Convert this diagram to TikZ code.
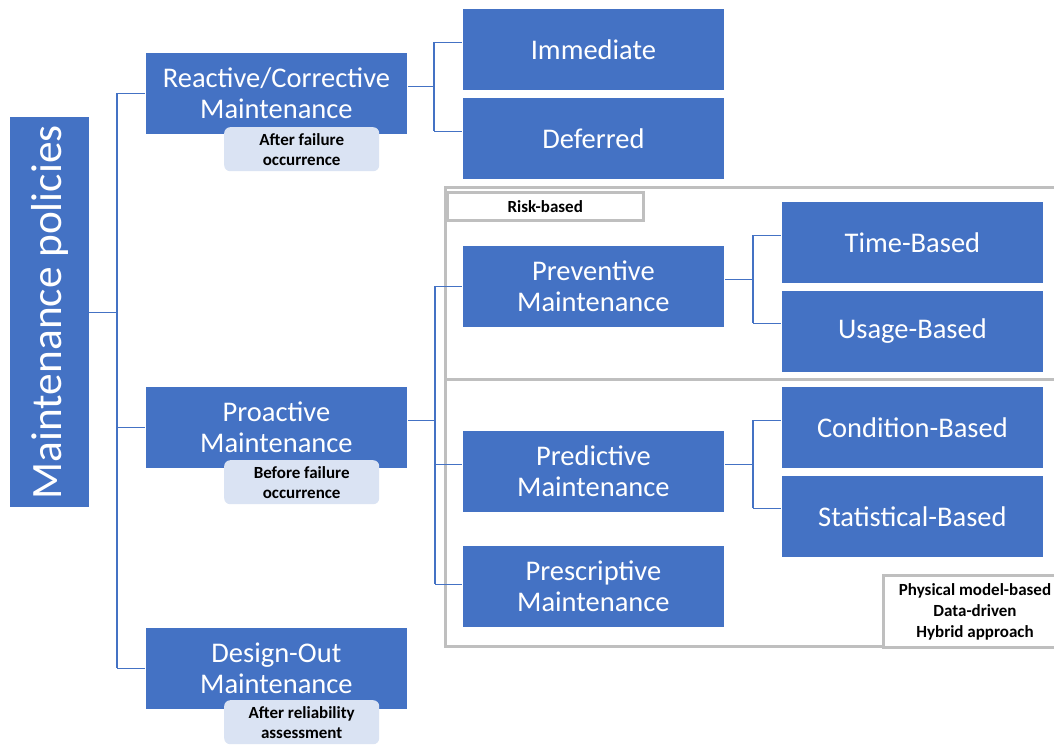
\documentclass[tikz,border=0pt]{standalone}
\usepackage{fontspec}
\setmainfont{Carlito}
\usepackage{graphicx}
\usetikzlibrary{calc}
\definecolor{blu}{HTML}{4472C4}
\definecolor{lbl}{HTML}{DAE3F3}
\definecolor{gr}{HTML}{BFBFBF}
\begin{document}
\begin{tikzpicture}[x=1pt,y=-1pt,
 bbox/.style={fill=blu, draw=white, line width=0.8pt, text=white, minimum width=262pt, minimum height=82pt, anchor=north west, align=center, inner sep=0pt, font=\fontsize{28.5}{31}\selectfont},
 lab/.style={fill=lbl, rounded corners=6pt, minimum width=155pt, minimum height=44pt, anchor=north west, align=center, inner sep=0pt, font=\bfseries\fontsize{17}{20}\selectfont},
 con/.style={draw=blu, line width=1.3pt},
 frm/.style={draw=gr, line width=3pt}]
\useasboundingbox (0,0) rectangle (1054,745);
\fill[white] (0,0) rectangle (1054,745);
% frames
\draw[frm] (445,187.3) rectangle (1075,379);
\draw[frm] (445,379) rectangle (1075,646.3);
\node[draw=gr, line width=3pt, fill=white, minimum width=196.5pt, minimum height=28.5pt, anchor=north west, inner sep=0pt, font=\bfseries\fontsize{17}{20}\selectfont] (risk) at (445.5,190.5) {Risk-based};
\node[draw=gr, line width=3pt, fill=white, minimum width=183pt, minimum height=72.3pt, anchor=north west, inner sep=0pt, align=center, font=\bfseries\fontsize{17}{21}\selectfont] (phys) at (882,574) {Physical model-based\\Data-driven\\Hybrid approach};
% main
\node[fill=blu, text=white, minimum width=79pt, minimum height=390pt, anchor=north west, inner sep=0pt, font=\fontsize{43.3}{45}\selectfont] (mp) at (10,117) {\rotatebox{90}{Maintenance policies}};
% boxes
\node[bbox] (react) at (145,52) {Reactive/Corrective\\Maintenance};
\node[bbox] (proact) at (145,386) {Proactive\\Maintenance};
\node[bbox] (design) at (145,627) {Design-Out\\Maintenance};
\node[bbox] (imm) at (462,8) {Immediate};
\node[bbox] (def) at (462,97) {Deferred};
\node[bbox] (prev) at (462,245) {Preventive\\Maintenance};
\node[bbox] (pred) at (462,430) {Predictive\\Maintenance};
\node[bbox] (presc) at (462,545) {Prescriptive\\Maintenance};
\node[bbox] (time) at (781,201) {Time-Based};
\node[bbox] (usage) at (781,290) {Usage-Based};
\node[bbox] (cond) at (781,386) {Condition-Based};
\node[bbox] (stat) at (781,475) {Statistical-Based};
% labels
\node[lab] (l1) at (224,127) {After failure\\occurrence};
\node[lab] (l2) at (224,460) {Before failure\\occurrence};
\node[lab] (l3) at (224,700) {After reliability\\assessment};
% trunk
\coordinate (t) at (117,0);
\draw[con] (mp.east) -- (mp.east -| t);
\draw[con] (react.west -| t) -- (design.west -| t);
\draw[con] (react.west -| t) -- (react.west);
\draw[con] (proact.west -| t) -- (proact.west);
\draw[con] (design.west -| t) -- (design.west);
% reactive branch
\coordinate (rj) at (434,0);
\coordinate (r1) at ($(react.east)+(0,-7)$);
\coordinate (i1) at ($(imm.west)+(0,-7)$);
\coordinate (d1) at ($(def.west)+(0,-7)$);
\draw[con] (r1) -- (r1 -| rj);
\draw[con] (i1 -| rj) -- (d1 -| rj);
\draw[con] (i1 -| rj) -- (i1);
\draw[con] (d1 -| rj) -- (d1);
% proactive branch
\coordinate (pj) at (435,0);
\coordinate (p1) at ($(proact.east)+(0,-7)$);
\coordinate (p2) at ($(prev.west)+(0,0)$);
\coordinate (p3) at ($(pred.west)+(0,-7)$);
\coordinate (p4) at ($(presc.west)+(0,-2)$);
\draw[con] (p1) -- (p1 -| pj);
\draw[con] (p2 -| pj) -- (p4 -| pj);
\draw[con] (p2 -| pj) -- (p2);
\draw[con] (p3 -| pj) -- (p3);
\draw[con] (p4 -| pj) -- (p4);
% preventive branch
\coordinate (vj) at (753,0);
\coordinate (v1) at ($(prev.east)+(0,-7)$);
\coordinate (v2) at ($(time.west)+(0,-7)$);
\coordinate (v3) at ($(usage.west)+(0,-8)$);
\draw[con] (v1) -- (v1 -| vj);
\draw[con] (v2 -| vj) -- (v3 -| vj);
\draw[con] (v2 -| vj) -- (v2);
\draw[con] (v3 -| vj) -- (v3);
% predictive branch
\coordinate (q1) at ($(pred.east)+(0,-7)$);
\coordinate (q2) at ($(cond.west)+(0,-7)$);
\coordinate (q3) at ($(stat.west)+(0,-8)$);
\draw[con] (q1) -- (q1 -| vj);
\draw[con] (q2 -| vj) -- (q3 -| vj);
\draw[con] (q2 -| vj) -- (q2);
\draw[con] (q3 -| vj) -- (q3);
\end{tikzpicture}
\end{document}
